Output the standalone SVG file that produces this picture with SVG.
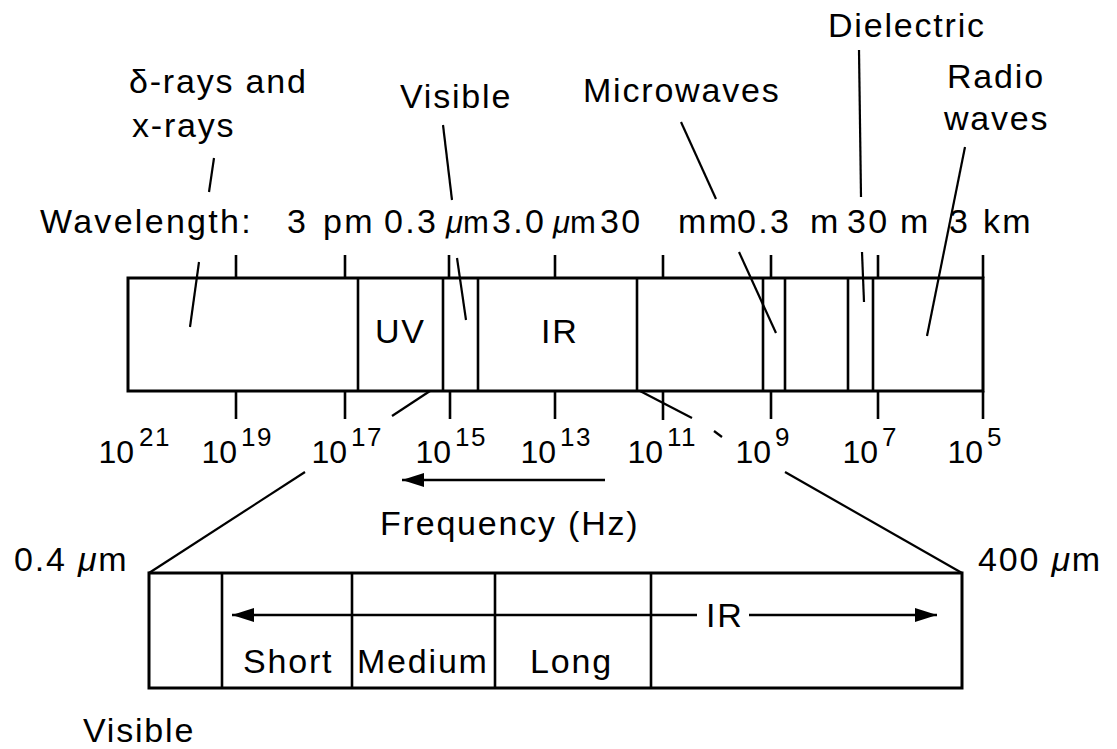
<svg xmlns="http://www.w3.org/2000/svg" width="1117" height="749" viewBox="0 0 1117 749">
<style>
.t{font-family:"Liberation Sans",Arial,Helvetica,sans-serif;font-size:34px;letter-spacing:1.8px;fill:#000}
.w{letter-spacing:2.3px}
.n{font-family:"Liberation Sans",Arial,Helvetica,sans-serif;font-size:32px;fill:#000}
.s{font-family:"Liberation Sans",Arial,Helvetica,sans-serif;font-size:26px;letter-spacing:1.5px;fill:#000}
.mu{font-style:italic}
.um{letter-spacing:0;font-size:31px}
.box{fill:none;stroke:#000;stroke-width:3}
.band{stroke:#000;stroke-width:2.6;fill:none}
.tick{stroke:#000;stroke-width:2.6}
.ln{stroke:#000;stroke-width:2.2;fill:none}
.arr{stroke:#000;stroke-width:2.4;fill:none;marker-end:url(#ah)}
</style>
<defs>
<marker id="ah" viewBox="0 -7 22 14" refX="22" refY="0" markerWidth="22" markerHeight="14" markerUnits="userSpaceOnUse" orient="auto">
<path d="M0,-7 L22,0 L0,7 z" fill="#000"/>
</marker>
</defs>
<rect width="1117" height="749" fill="#fff"/>

<g id="spectrum-bar">
<rect class="box" x="128" y="278" width="855" height="113"/>
<line class="band" x1="358" y1="278" x2="358" y2="391"/>
<line class="band" x1="443" y1="278" x2="443" y2="391"/>
<line class="band" x1="478" y1="278" x2="478" y2="391"/>
<line class="band" x1="637" y1="278" x2="637" y2="391"/>
<line class="band" x1="763" y1="278" x2="763" y2="391"/>
<line class="band" x1="785" y1="278" x2="785" y2="391"/>
<line class="band" x1="848" y1="278" x2="848" y2="391"/>
<line class="band" x1="873" y1="278" x2="873" y2="391"/>
<text class="t" x="375" y="343">UV</text>
<text class="t" x="541" y="343">IR</text>
</g>

<g id="wavelength-axis">
<text class="t w" y="233"><tspan x="40">Wavelength:</tspan><tspan x="287">3</tspan><tspan x="323">pm</tspan><tspan x="384">0.3</tspan><tspan x="446" class="mu um">μ</tspan><tspan class="um">m</tspan><tspan x="492">3.0</tspan><tspan x="553" class="mu um">μ</tspan><tspan class="um">m</tspan><tspan x="600">30</tspan><tspan x="678">mm</tspan><tspan x="737">0.3</tspan><tspan x="810">m</tspan><tspan x="847">30</tspan><tspan x="900">m</tspan><tspan x="949">3</tspan><tspan x="983">km</tspan></text>
<line class="tick" x1="236" y1="255" x2="236" y2="278"/>
<line class="tick" x1="345" y1="255" x2="345" y2="278"/>
<line class="tick" x1="449" y1="255" x2="449" y2="278"/>
<line class="tick" x1="555" y1="255" x2="555" y2="278"/>
<line class="tick" x1="663" y1="255" x2="663" y2="278"/>
<line class="tick" x1="771" y1="255" x2="771" y2="278"/>
<line class="tick" x1="878" y1="255" x2="878" y2="278"/>
<line class="tick" x1="983" y1="255" x2="983" y2="278"/>
</g>

<g id="frequency-axis">
<line class="tick" x1="236" y1="391" x2="236" y2="419"/>
<line class="tick" x1="345" y1="391" x2="345" y2="419"/>
<line class="tick" x1="450" y1="391" x2="450" y2="419"/>
<line class="tick" x1="555" y1="391" x2="555" y2="419"/>
<line class="tick" x1="663" y1="391" x2="663" y2="420"/>
<line class="tick" x1="771" y1="391" x2="771" y2="419"/>
<line class="tick" x1="878" y1="391" x2="878" y2="419"/>
<line class="tick" x1="983" y1="391" x2="983" y2="419"/>
<text class="n" x="134" y="463" text-anchor="end">10</text><text class="s" x="139" y="446">21</text>
<text class="n" x="237" y="463" text-anchor="end">10</text><text class="s" x="241" y="446">19</text>
<text class="n" x="347" y="463" text-anchor="end">10</text><text class="s" x="351" y="446">17</text>
<text class="n" x="451" y="463" text-anchor="end">10</text><text class="s" x="455" y="446">15</text>
<text class="n" x="556" y="463" text-anchor="end">10</text><text class="s" x="560" y="446">13</text>
<text class="n" x="663" y="463" text-anchor="end">10</text><text class="s" x="667" y="446">11</text>
<text class="n" x="771" y="463" text-anchor="end">10</text><text class="s" x="775" y="446">9</text>
<text class="n" x="878" y="463" text-anchor="end">10</text><text class="s" x="882" y="446">7</text>
<text class="n" x="983" y="463" text-anchor="end">10</text><text class="s" x="987" y="446">5</text>
<text class="t" x="380" y="535">Frequency (Hz)</text>
</g>

<g id="label-gamma"><text class="t" x="129" y="93">δ-rays and</text><text class="t" x="132" y="137">x-rays</text></g>
<g id="label-visible"><text class="t" x="400" y="108">Visible</text></g>
<g id="label-microwaves"><text class="t" x="583" y="102">Microwaves</text></g>
<g id="label-dielectric"><text class="t" x="828" y="37">Dielectric</text></g>
<g id="label-radio"><text class="t" x="947" y="88">Radio</text><text class="t" x="944" y="130">waves</text></g>

<g id="ir-detail">
<rect class="box" x="149" y="573" width="813" height="115"/>
<line class="band" x1="222" y1="573" x2="222" y2="688"/>
<line class="band" x1="352" y1="573" x2="352" y2="688"/>
<line class="band" x1="495" y1="573" x2="495" y2="688"/>
<line class="band" x1="651" y1="573" x2="651" y2="688"/>
<text class="t" x="243" y="673">Short</text>
<text class="t" x="357" y="673">Medium</text>
<text class="t" x="530" y="673">Long</text>
<text class="t" x="706" y="627">IR</text>
<text class="t" x="14" y="571">0.4 <tspan class="mu">μ</tspan>m</text>
<text class="t" x="978" y="571">400 <tspan class="mu">μ</tspan>m</text>
<text class="t" x="83" y="742">Visible</text>
</g>

<g id="connectors">
<line class="ln" x1="214" y1="158" x2="209" y2="192"/>
<line class="ln" x1="199" y1="262" x2="190" y2="327"/>
<line class="ln" x1="443" y1="125" x2="452" y2="200"/>
<line class="ln" x1="457" y1="258" x2="466" y2="320"/>
<line class="ln" x1="681" y1="122" x2="716" y2="199"/>
<line class="ln" x1="739" y1="252" x2="776" y2="333"/>
<line class="ln" x1="859" y1="50" x2="861" y2="197"/>
<line class="ln" x1="862" y1="252" x2="864" y2="302"/>
<line class="ln" x1="965" y1="147" x2="927" y2="336"/>
<line class="ln" x1="430" y1="391" x2="392" y2="416"/>
<line class="ln" x1="305" y1="472" x2="149" y2="573"/>
<line class="ln" x1="640" y1="391" x2="692" y2="418"/>
<line class="ln" x1="714" y1="431" x2="722" y2="437"/>
<line class="ln" x1="785" y1="472" x2="962" y2="573"/>
<line class="arr" x1="605" y1="480" x2="402" y2="480"/>
<line class="arr" x1="697" y1="615" x2="232" y2="615"/>
<line class="arr" x1="749" y1="615" x2="937" y2="615"/>
</g>
</svg>
